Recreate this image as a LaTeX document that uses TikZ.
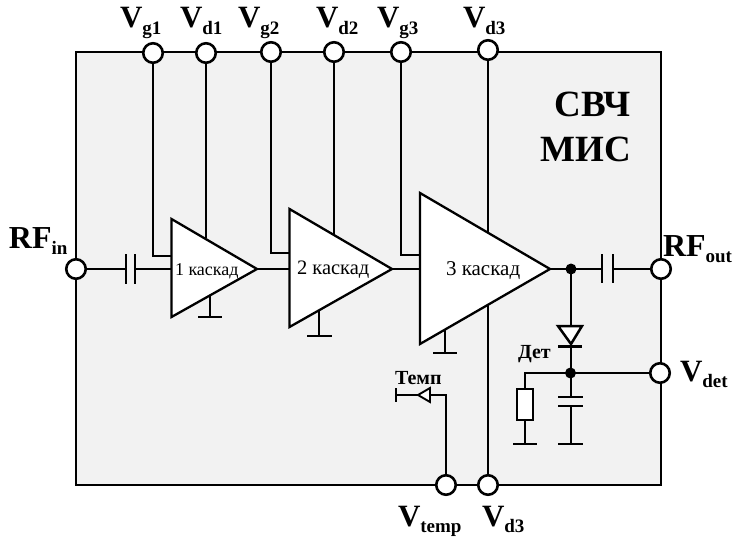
\documentclass[tikz,border=0pt]{standalone}
\usepackage{fontspec}
\setmainfont{Liberation Serif}
\newcommand{\lab}[2]{{\bfseries\fontsize{31}{31}\selectfont #1\raisebox{-0.2em}{\fontsize{19}{19}\selectfont #2}}}
\newcommand{\labrf}[2]{{\bfseries\fontsize{32}{32}\selectfont #1\raisebox{-0.2em}{\fontsize{19}{19}\selectfont #2}}}
\tikzset{
  x=1pt,y=-1pt,
  wire/.style={draw=black,line width=2pt,line join=miter},
  thin wire/.style={draw=black,line width=1.7pt},
  thick wire/.style={draw=black,line width=2.7pt},
  chip/.style={draw=black,line width=1.9pt,fill=black!5},
  amp/.style={draw=black,line width=2.3pt,fill=white,line join=miter},
  port/.style={circle,draw=black,line width=2.6pt,fill=white,minimum size=19.5pt,inner sep=0pt,outer sep=0pt},
  dot/.style={circle,fill=black,minimum size=11pt,inner sep=0pt,outer sep=0pt},
  txt/.style={anchor=base west,inner sep=0pt,outer sep=0pt},
  rtxt/.style={anchor=base east,inner sep=0pt,outer sep=0pt},
}
\begin{document}
\begin{tikzpicture}
\useasboundingbox (0,0) rectangle (735,537);
\path[chip] (76,52) rectangle (661,485);
% named points
\coordinate (t1a) at (171.5,219); \coordinate (t1b) at (171.5,317); \coordinate (t1c) at (257,269);
\coordinate (t2a) at (289.5,209); \coordinate (t2b) at (289.5,327); \coordinate (t2c) at (392,269);
\coordinate (t3a) at (420,193); \coordinate (t3b) at (420,344); \coordinate (t3c) at (550,269);
\coordinate (t1g) at (171.5,256); \coordinate (t2g) at (289.5,253); \coordinate (t3g) at (420,255);
\coordinate (t1d) at (206,238); \coordinate (t2d) at (334,234);
\coordinate (t1i) at (171.5,269); \coordinate (t2i) at (289.5,269); \coordinate (t3i) at (420,269);
\coordinate (c1a) at (126,269); \coordinate (c1b) at (135,269);
\coordinate (c2a) at (602,269); \coordinate (c2b) at (613,269);
\coordinate (gnd1) at (210,317); \coordinate (gnd1t) at (210,293);
\coordinate (gnd2) at (319,336); \coordinate (gnd2t) at (319,305);
\coordinate (gnd3) at (445,353); \coordinate (gnd3t) at (445,325);
\coordinate (rtop) at (525,373); \coordinate (rgnd) at (525,444);
\coordinate (cgnd) at (571,444); \coordinate (cp1) at (571,397); \coordinate (cp2) at (571,406);
\coordinate (dtop) at (571,326); \coordinate (dbar) at (571,346);
\coordinate (ttip) at (418,395); \coordinate (tcorner) at (446,395); \coordinate (tend) at (396,395);
% wires
\path[thin wire] (153,53) |- (t1g);
\path[thin wire] (206,53) -- (t1d);
\path[thin wire] (271,52) |- (t2g);
\path[thin wire] (334,52) -- (t2d);
\path[thin wire] (401,52) |- (t3g);
\path[thin wire] (488,50) -- (488,485);
\path[thick wire] (76,269) -- (c1a) (c1b) -- (t1i);
\path[thick wire] (t1c) -- (t2i);
\path[thick wire] (t2c) -- (t3i);
\path[thick wire] (t3c) -- (c2a) (c2b) -- (661,269);
\path[thick wire] (571,269) -- (dtop) (dbar) -- (cp1) (cp2) -- (cgnd);
\path[wire] (660,373) -- (rtop) -- (rgnd);
\path[wire] (446,485) -- (tcorner) -- (tend);
\path[wire] (gnd1t) -- (gnd1) (gnd2t) -- (gnd2) (gnd3t) -- (gnd3);
% ports
\node[port] (vg1) at (153,53) {};
\node[port] (vd1) at (206,53) {};
\node[port] (vg2) at (271,52) {};
\node[port] (vd2) at (334,52) {};
\node[port] (vg3) at (401,52) {};
\node[port] (vd3) at (488,50) {};
\node[port] (rfin) at (76,269) {};
\node[port] (rfout) at (661,269) {};
\node[port] (vdet) at (660,373) {};
\node[port] (vtemp) at (446,485) {};
\node[port] (vd3b) at (488,485) {};
% amplifiers
\path[amp] (t1a) -- (t1c) -- (t1b) -- cycle;
\path[amp] (t2a) -- (t2c) -- (t2b) -- cycle;
\path[amp] (t3a) -- (t3c) -- (t3b) -- cycle;
% capacitor plates and grounds
\path[thick wire] (126,254) -- (126,284) (135,254) -- (135,284);
\path[thick wire] (602,254) -- (602,283) (613,254) -- (613,283);
\path[thick wire] (558,397) -- (583,397) (558,406) -- (583,406);
\path[wire,line width=2.2pt] (198,317) -- (222,317) (307,336) -- (332,336) (433,353) -- (457,353) (513,444) -- (537,444) (558,444) -- (583,444);
% resistor
\path[wire,fill=white] (517,389) rectangle (533,420);
% diode
\path[amp,line width=2.5pt] (558,326) -- (582,326) -- (571,344) -- cycle;
\path[thick wire,line width=3pt] (558,346) -- (582,346);
% sensor
\path[amp,line width=1.9pt] (430,388) -- (418,395) -- (430,402) -- cycle;
\path[thick wire] (396,388) -- (396,402);
% dots
\node[dot] (d1) at (571,269) {};
\node[dot] (d2) at (570.5,373) {};
% labels
\node[txt] (lvg1) at (120,28) {\lab{V}{g1}};
\node[txt] (lvd1) at (180,28) {\lab{V}{d1}};
\node[txt] (lvg2) at (238,28) {\lab{V}{g2}};
\node[txt] (lvd2) at (316,28) {\lab{V}{d2}};
\node[txt] (lvg3) at (377,28) {\lab{V}{g3}};
\node[txt] (lvd3) at (463,28) {\lab{V}{d3}};
\node[txt] (lrfin) at (9,248) {\labrf{RF}{in}};
\node[txt] (lrfout) at (663,256) {\labrf{RF}{out}};
\node[txt] (lvdet) at (680,381) {\lab{V}{det}};
\node[txt] (lvtemp) at (398,526) {\lab{V}{temp}};
\node[txt] (lvd3b) at (482,526) {\lab{V}{d3}};
\node[rtxt] (l1) at (631,117) {\bfseries\fontsize{37}{37}\selectfont СВЧ};
\node[rtxt] (l2) at (631,162) {\bfseries\fontsize{37}{37}\selectfont МИС};
\node[txt] (k1) at (175,275) {\fontsize{18}{18}\selectfont 1 каскад};
\node[txt] (k2) at (297,274) {\fontsize{20.5}{20.5}\selectfont 2 каскад};
\node[txt] (k3) at (446,275) {\fontsize{21}{21}\selectfont 3 каскад};
\node[txt] (det) at (518,358) {\bfseries\fontsize{20}{20}\selectfont Дет};
\node[txt] (temp) at (395,384) {\bfseries\fontsize{20}{20}\selectfont Темп};
\end{tikzpicture}
\end{document}
